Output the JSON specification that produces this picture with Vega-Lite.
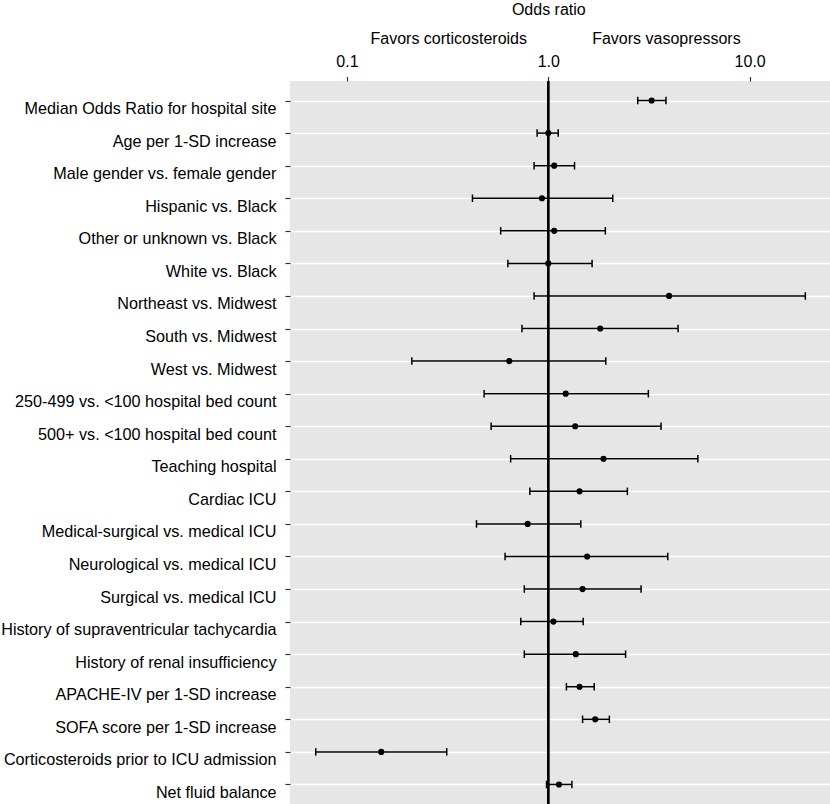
{
  "$schema": "https://vega.github.io/schema/vega-lite/v6.json",
  "autosize": {"type": "none"},
  "padding": {"left": 290, "top": 81, "right": 0, "bottom": 0},
  "width": 540,
  "height": 723,
  "background": "white",
  "config": {
    "font": "Liberation Sans",
    "view": {"stroke": null, "fill": "#E6E6E6"},
    "axis": {"gridColor": "white", "gridWidth": 1.3, "gridOpacity": 1, "domain": false}
  },
  "data": {
    "values": [
      {"label": "Median Odds Ratio for hospital site", "lo": 2.78, "est": 3.26, "hi": 3.84},
      {"label": "Age per 1-SD increase", "lo": 0.88, "est": 1.0, "hi": 1.12},
      {"label": "Male gender vs. female gender", "lo": 0.85, "est": 1.07, "hi": 1.35},
      {"label": "Hispanic vs. Black", "lo": 0.42, "est": 0.93, "hi": 2.09},
      {"label": "Other or unknown vs. Black", "lo": 0.58, "est": 1.07, "hi": 1.92},
      {"label": "White vs. Black", "lo": 0.63, "est": 1.0, "hi": 1.65},
      {"label": "Northeast vs. Midwest", "lo": 0.85, "est": 3.98, "hi": 18.9},
      {"label": "South vs. Midwest", "lo": 0.74, "est": 1.81, "hi": 4.41},
      {"label": "West vs. Midwest", "lo": 0.21, "est": 0.64, "hi": 1.93},
      {"label": "250-499 vs. <100 hospital bed count", "lo": 0.48, "est": 1.22, "hi": 3.14},
      {"label": "500+ vs. <100 hospital bed count", "lo": 0.52, "est": 1.36, "hi": 3.63},
      {"label": "Teaching hospital", "lo": 0.65, "est": 1.88, "hi": 5.53},
      {"label": "Cardiac ICU", "lo": 0.81, "est": 1.43, "hi": 2.47},
      {"label": "Medical-surgical vs. medical ICU", "lo": 0.44, "est": 0.79, "hi": 1.45},
      {"label": "Neurological vs. medical ICU", "lo": 0.61, "est": 1.56, "hi": 3.92},
      {"label": "Surgical vs. medical ICU", "lo": 0.76, "est": 1.48, "hi": 2.89},
      {"label": "History of supraventricular tachycardia", "lo": 0.73, "est": 1.06, "hi": 1.49},
      {"label": "History of renal insufficiency", "lo": 0.76, "est": 1.37, "hi": 2.42},
      {"label": "APACHE-IV per 1-SD increase", "lo": 1.23, "est": 1.43, "hi": 1.69},
      {"label": "SOFA score per 1-SD increase", "lo": 1.48, "est": 1.71, "hi": 2.01},
      {"label": "Corticosteroids prior to ICU admission", "lo": 0.07, "est": 0.148, "hi": 0.313},
      {"label": "Net fluid balance", "lo": 0.98, "est": 1.13, "hi": 1.31}
    ]
  },
  "resolve": {"scale": {"x": "independent"}, "axis": {"x": "independent"}},
  "layer": [
    {
      "encoding": {
        "y": {
          "field": "label", "type": "nominal", "sort": null,
          "scale": {"type": "point", "padding": 0.6},
          "axis": {
            "title": null, "orient": "left", "grid": true,
            "labelFontSize": 16.2, "labelColor": "black", "labelLimit": 400,
            "labelBaseline": "top", "labelPadding": 9,
            "tickSize": 5, "tickColor": "#333333", "tickWidth": 1.2
          }
        }
      },
      "layer": [
        {
          "mark": {"type": "rule", "color": "black", "strokeWidth": 1.5},
          "encoding": {
            "x": {
              "datum": 1, "type": "quantitative",
              "scale": {"type": "log", "domain": [0.05215, 25.06], "nice": false, "zero": false},
              "axis": {
                "orient": "top", "title": null,
                "values": [0.1, 0.31623, 1, 3.1623, 10],
                "labelExpr": "datum.value === 0.1 ? '0.1' : datum.value === 1 ? '1.0' : datum.value === 10 ? '10.0' : ''",
                "labelFontSize": 16, "labelColor": "black", "labelBaseline": "alphabetic",
                "labelPadding": 10.5, "tickSize": 4.5, "tickColor": "#333333", "tickWidth": 1.2,
                "tickOpacity": {"condition": {"test": "datum.value === 0.1 || datum.value === 1 || datum.value === 10", "value": 1}, "value": 0},
                "labelFlush": false
              }
            },
            "y": null
          }
        },
        {
          "mark": {"type": "rule", "color": "black", "strokeWidth": 1.5},
          "encoding": {
            "x": {"field": "lo", "type": "quantitative"},
            "x2": {"field": "hi"}
          }
        },
        {
          "mark": {"type": "tick", "color": "black", "size": 7.5, "thickness": 1.5, "opacity": 1},
          "encoding": {"x": {"field": "lo", "type": "quantitative"}}
        },
        {
          "mark": {"type": "tick", "color": "black", "size": 7.5, "thickness": 1.5, "opacity": 1},
          "encoding": {"x": {"field": "hi", "type": "quantitative"}}
        },
        {
          "mark": {"type": "point", "filled": true, "color": "black", "size": 38, "opacity": 1},
          "encoding": {"x": {"field": "est", "type": "quantitative"}}
        }
      ]
    },
    {
      "data": {"values": [{"side": "Favors corticosteroids", "pos": 0.3185}, {"side": "Favors vasopressors", "pos": 3.838}]},
      "mark": {"type": "rule", "opacity": 0},
      "encoding": {
        "x": {
          "field": "pos", "type": "quantitative",
          "scale": {"type": "log", "domain": [0.05215, 25.06], "nice": false, "zero": false},
          "axis": {
            "orient": "top", "title": null, "grid": false, "ticks": false, "tickSize": 0,
            "values": [0.3185, 3.838],
            "labelExpr": "datum.value < 1 ? 'Favors corticosteroids' : 'Favors vasopressors'",
            "labelFontSize": 16, "labelColor": "black", "labelBaseline": "alphabetic",
            "labelPadding": 37.7, "labelFlush": false, "labelOverlap": false
          }
        }
      }
    },
    {
      "data": {"values": [{"name": "Odds ratio", "pos": 1}]},
      "mark": {"type": "rule", "opacity": 0},
      "encoding": {
        "x": {
          "field": "pos", "type": "quantitative",
          "scale": {"type": "log", "domain": [0.05215, 25.06], "nice": false, "zero": false},
          "axis": {
            "orient": "top", "title": null, "grid": false, "ticks": false, "tickSize": 0,
            "values": [1],
            "labelExpr": "'Odds ratio'",
            "labelFontSize": 16, "labelColor": "black", "labelBaseline": "alphabetic",
            "labelPadding": 67, "labelFlush": false
          }
        }
      }
    }
  ]
}
